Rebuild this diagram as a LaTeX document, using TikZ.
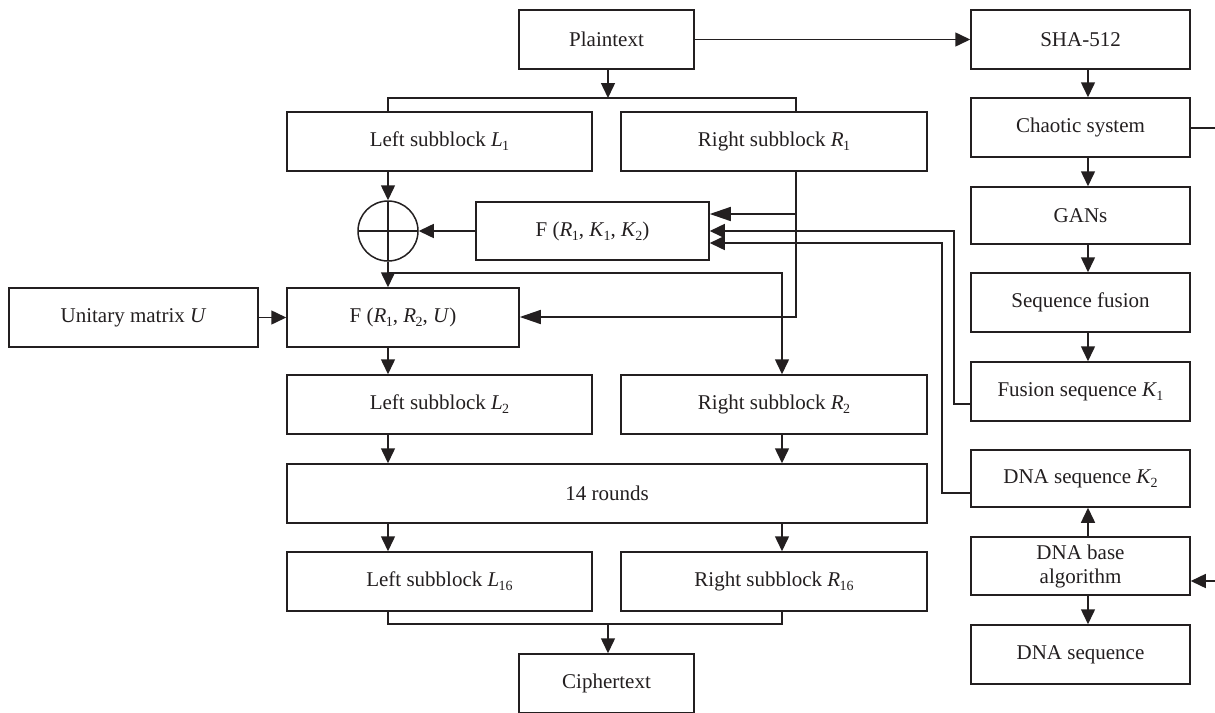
\documentclass[tikz,border=0pt]{standalone}
\usepackage{fontspec}
\setmainfont{Liberation Serif}
\usetikzlibrary{arrows.meta,calc}
\definecolor{ink}{RGB}{35,31,32}
\newcommand{\fsz}{\fontsize{21}{24}\selectfont}
\newcommand{\vs}[2]{\textit{#1}\kern-0.03em\raisebox{-4pt}{\fontsize{14}{14}\selectfont #2}}
\tikzset{
  box/.style={draw=ink, line width=1.5pt, minimum height=59pt, inner sep=0pt, font=\fsz, text=ink, align=center},
  arr/.style={draw=ink, line width=1.5pt, -{Triangle[length=15pt,width=14pt]}},
  bigarr/.style={draw=ink, line width=1.5pt, -{Triangle[length=21pt,width=14pt]}},
  ln/.style={draw=ink, line width=1.5pt},
}
\begin{document}
\begin{tikzpicture}[x=1pt,y=-1pt]
\useasboundingbox (0,0) rectangle (1215,712);
\fill[white] (0,0) rectangle (1215,712);
% nodes
\node[box,minimum width=175pt] (plain) at (606.5,39.5) {Plaintext};
\node[box,minimum width=219pt] (sha) at (1080.5,39.5) {SHA-512};
\node[box,minimum width=305pt] (L1) at (439.5,141.5) {Left subblock \vs{L}{1}};
\node[box,minimum width=306pt] (R1) at (774,141.5) {Right subblock \vs{R}{1}};
\node[box,minimum width=219pt] (chaos) at (1080.5,127.5) {Chaotic system};
\node[box,minimum width=233pt,minimum height=58pt] (F1) at (592.5,231) {F (\vs{R}{1}, \vs{K}{1}, \vs{K}{2})};
\node[circle,draw=ink,line width=1.5pt,minimum size=60pt,inner sep=0pt,
  path picture={\draw[ln] (path picture bounding box.north) -- (path picture bounding box.south)
     (path picture bounding box.west) -- (path picture bounding box.east);}] (xor) at (388,231) {};
\node[box,minimum width=219pt,minimum height=57pt] (gans) at (1080.5,215.5) {GANs};
\node[box,minimum width=249pt] (U) at (133.5,317.5) {Unitary matrix \textit{U}};
\node[box,minimum width=232pt] (F2) at (403,317.5) {F (\vs{R}{1}, \vs{R}{2}, \textit{U})};
\node[box,minimum width=219pt] (seqf) at (1080.5,302.5) {Sequence fusion};
\node[box,minimum width=305pt] (L2) at (439.5,404.5) {Left subblock \vs{L}{2}};
\node[box,minimum width=306pt] (R2) at (774,404.5) {Right subblock \vs{R}{2}};
\node[box,minimum width=219pt] (K1) at (1080.5,391.5) {Fusion sequence \vs{K}{1}};
\node[box,minimum width=640pt] (rounds) at (607,493.5) {14 rounds};
\node[box,minimum width=219pt,minimum height=57pt] (K2) at (1080.5,478.5) {DNA sequence \vs{K}{2}};
\node[box,minimum width=219pt,minimum height=58pt] (dnab) at (1080.5,566) {DNA base\\algorithm};
\node[box,minimum width=305pt] (L16) at (439.5,581.5) {Left subblock \vs{L}{16}};
\node[box,minimum width=306pt] (R16) at (774,581.5) {Right subblock \vs{R}{16}};
\node[box,minimum width=219pt] (dnas) at (1080.5,654.5) {DNA sequence};
\node[box,minimum width=175pt] (cipher) at (606.5,683.5) {Ciphertext};
% helper coordinates
\coordinate (xL) at (388,0);
\coordinate (xRa) at (796,0);
\coordinate (xRb) at (782,0);
\coordinate (xS) at (1088,0);
\coordinate (jt) at (608,98);
\coordinate (jx) at (388,273);
\coordinate (jb) at (608,624);
\coordinate (cr) at (1225,128);
\coordinate (dr) at (1225,581);
\coordinate (k1a) at (954,404);
\coordinate (k1b) at (954,231);
\coordinate (k2a) at (942,493);
\coordinate (k2b) at (942,243);
\coordinate (ra) at (796,214);
\coordinate (rb) at (796,317);
% connectors
\draw[arr] (plain.east) -- (sha.west);
\draw[arr] (plain.south -| jt) -- (jt);
\draw[ln] (L1.north -| xL) |- (jt) -| (R1.north -| xRa);
\draw[arr] (sha.south -| xS) -- (chaos.north -| xS);
\draw[arr] (chaos.south -| xS) -- (gans.north -| xS);
\draw[arr] (gans.south -| xS) -- (seqf.north -| xS);
\draw[arr] (seqf.south -| xS) -- (K1.north -| xS);
\draw[arr] (dnab.north -| xS) -- (K2.south -| xS);
\draw[arr] (dnab.south -| xS) -- (dnas.north -| xS);
\draw[arr] (chaos.east |- cr) -- (cr) -- (dr) -- (dnab.east |- dr);
\draw[arr] (K1.west |- k1a) -- (k1a) -- (k1b) -- (F1.east |- k1b);
\draw[arr] (K2.west |- k2a) -- (k2a) -- (k2b) -- (F1.east |- k2b);
\draw[bigarr] (R1.south -| xRa) -- (rb) -- (F2.east |- rb);
\draw[bigarr] (ra) -- (F1.east |- ra);
\draw[arr] (L1.south -| xL) -- (xor.north);
\draw[arr] (F1.west |- xor) -- (xor.east);
\draw[arr] (xor.south) -- (F2.north -| xL);
\draw[arr] (jx) -| (R2.north -| xRb);
\draw[arr] (U.east) -- (F2.west);
\draw[arr] (F2.south -| xL) -- (L2.north -| xL);
\draw[arr] (L2.south -| xL) -- (rounds.north -| xL);
\draw[arr] (R2.south -| xRb) -- (rounds.north -| xRb);
\draw[arr] (rounds.south -| xL) -- (L16.north -| xL);
\draw[arr] (rounds.south -| xRb) -- (R16.north -| xRb);
\draw[ln] (L16.south -| xL) |- (jb) -| (R16.south -| xRb);
\draw[arr] (jb) -- (cipher.north -| jb);
\end{tikzpicture}
\end{document}
